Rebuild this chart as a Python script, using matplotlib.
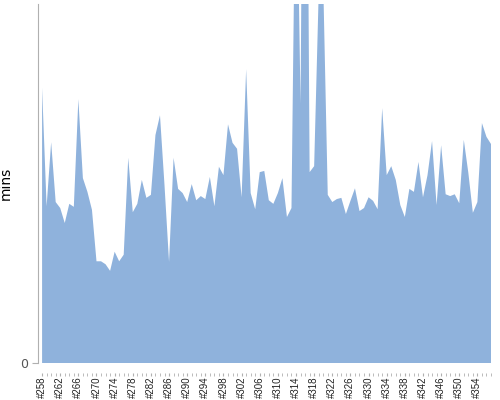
import matplotlib.pyplot as plt
import numpy as np

# build numbers #258 .. #357
builds = ["#%d" % n for n in range(258, 358)]

# build durations in minutes (spikes go past the top)
mins = [
    46.0, 26.2, 36.9, 26.9, 25.9, 23.4, 26.6, 26.1, 44.1, 30.9,
    28.6, 25.6, 17.0, 17.0, 16.5, 15.4, 18.6, 17.0, 18.1, 34.3,
    25.2, 26.6, 30.6, 27.6, 28.1, 38.1, 41.4, 29.7, 16.9, 34.3,
    29.1, 28.4, 26.9, 29.9, 27.2, 27.9, 27.4, 31.1, 26.2, 32.8,
    31.4, 39.9, 36.8, 35.8, 27.7, 49.1, 28.4, 25.7, 31.9, 32.1,
    27.2, 26.6, 28.4, 30.9, 24.4, 25.9, 91.9, 43.3, 150.4, 31.9,
    32.9, 61.8, 63.5, 28.1, 26.9, 27.4, 27.6, 24.9, 27.1, 29.2,
    25.4, 25.9, 27.7, 27.1, 25.7, 42.6, 31.4, 32.9, 30.6, 26.4,
    24.4, 29.1, 28.6, 33.6, 27.7, 31.4, 37.1, 26.4, 36.4, 28.2,
    27.9, 28.2, 26.7, 37.3, 31.8, 25.1, 26.9, 40.1, 37.8, 36.6,
]
y_max = 60

fig = plt.figure(figsize=(5, 4), dpi=100)
ax = fig.add_axes([0.076, 0.0925, 0.906, 0.8975])

x = np.arange(len(builds))
ax.fill_between(x, 0, mins, color="#8fb2dc", linewidth=0)

ax.set_xlim(-0.9, len(builds) - 1)
ax.set_ylim(0, y_max)

# axes styling
for side in ["top", "right"]:
    ax.spines[side].set_visible(False)
ax.spines["left"].set_color("#b0b0b0")
ax.spines["bottom"].set_position(("outward", 7))
ax.spines["bottom"].set_visible(False)

ax.set_yticks([0])
ax.set_yticklabels(["0"], color="#555555", fontsize=9)
ax.tick_params(axis="y", length=4, color="#b0b0b0", pad=3)

ax.set_xticks(x, minor=True)
ax.set_xticks(x[::4])
ax.set_xticklabels(builds[::4], rotation=90, fontsize=7, color="#222222",
                   family="Liberation Sans")
ax.tick_params(axis="x", which="both", length=2, color="#b0b0b0", pad=0.5)

ax.set_ylabel("mins", fontsize=10)
ax.yaxis.set_label_coords(-0.055, 0.5)

fig.savefig("out.png", dpi=100)
